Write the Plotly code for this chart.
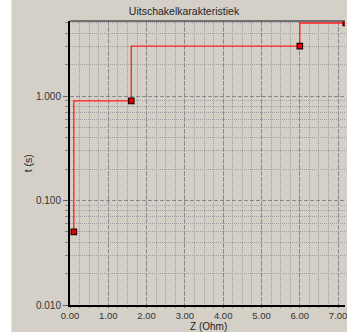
import plotly.graph_objects as go

# Data
z_ohm = [0.10, 1.60, 6.00, 7.20]
t_s = [0.05, 0.90, 3.00, 5.00]

x_ticks = [0, 1, 2, 3, 4, 5, 6, 7]
y_ticks = [0.01, 0.1, 1.0]
y_ticktext = ["0.010", "0.100", "1.000"]
y_minor = [0.02, 0.03, 0.04, 0.05, 0.06, 0.07, 0.08, 0.09,
           0.2, 0.3, 0.4, 0.5, 0.6, 0.7, 0.8, 0.9,
           2, 3, 4, 5]

BG = "#d4d0c8"
W, H = 347, 332
ML, MR, MT, MB = 70, 0, 21, 27
PW = W - ML - MR
PH = H - MT - MB

fig = go.Figure()
fig.add_trace(go.Scatter(
    x=z_ohm, y=t_s, mode="lines+markers", line_shape="vh",
    line=dict(color="#ff2020", width=1.3),
    marker=dict(symbol="square", size=5.5, color="#e00000",
                line=dict(color="#300000", width=1.2)),
    showlegend=False, hoverinfo="skip"))

font = "Liberation Sans, Arial, sans-serif"
MAJ_DASH = "4px,2px"
MIN_DASH = "1px,1px"
fig.update_layout(
    width=W, height=H,
    margin=dict(l=ML, r=MR, t=MT, b=MB, pad=0),
    paper_bgcolor="white", plot_bgcolor=BG,
    font=dict(family=font, size=10, color="#333333"),
    title=dict(text="Uitschakelkarakteristiek", x=184 / W, xref="container",
               xanchor="center", y=1 - 11 / H, yref="container", yanchor="middle",
               font=dict(family=font, size=10.5, color="#222222")),
    xaxis=dict(range=[0, 7.18], tickvals=x_ticks, tickformat=".2f",
               showline=True, linecolor="#000000", linewidth=1.5,
               ticks="outside", ticklen=1, tickcolor="#555555",
               showgrid=True, gridcolor="#888888", griddash=MAJ_DASH, gridwidth=1,
               zeroline=False, ticklabeloverflow="allow",
               tickfont=dict(size=9.5, color="#333333"),
               minor=dict(dtick=0.25, showgrid=True, gridcolor="#9c9c9c",
                          griddash=MIN_DASH, gridwidth=1, ticks="outside",
                          ticklen=1, tickcolor="#777777")),
    yaxis=dict(type="log", range=[-2, 0.718], tickvals=y_ticks, ticktext=y_ticktext,
               showline=True, linecolor="#000000", linewidth=2,
               ticks="outside", ticklen=5, tickcolor="#666666",
               showgrid=True, gridcolor="#888888", griddash=MAJ_DASH, gridwidth=1,
               zeroline=False, tickfont=dict(size=10, color="#333333"),
               minor=dict(tickvals=y_minor, showgrid=True, gridcolor="#a0a0a0",
                          griddash=MIN_DASH, gridwidth=1, ticks="outside",
                          ticklen=3, tickcolor="#888888")),
    shapes=[
        dict(type="rect", xref="paper", yref="paper", layer="below",
             x0=(11 - ML) / PW, x1=1.01, y0=-(MB + 2) / PH, y1=1 + (MT + 2) / PH,
             fillcolor=BG, line=dict(width=0)),
        dict(type="line", xref="paper", yref="paper", x0=0, x1=1, y0=1, y1=1,
             line=dict(color="#505050", width=1.5)),
    ],
    annotations=[
        dict(text="t (s)", xref="paper", yref="paper", x=(28 - ML) / PW, y=0.5,
             textangle=-90, showarrow=False, xanchor="center", yanchor="middle",
             font=dict(family=font, size=10.5, color="#222222")),
        dict(text="Z (Ohm)", xref="paper", yref="paper", x=(210 - ML) / PW,
             y=-21.5 / PH, showarrow=False, xanchor="center", yanchor="middle",
             font=dict(family=font, size=10, color="#222222")),
    ],
)

fig.write_html("out.html", config={"displayModeBar": False},
               post_script="document.body.style.margin='0';"
                           "document.body.style.overflow='hidden';")
